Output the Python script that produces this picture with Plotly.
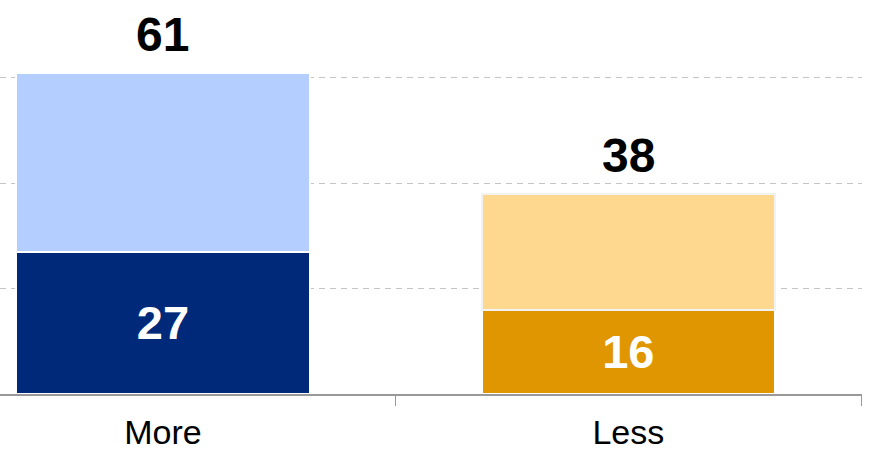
import plotly.graph_objects as go

categories = ["More", "Less"]
base_values = [27, 16]
top_values = [34, 22]
totals = [61, 38]

base_colors = ["#00297A", "#E09600"]
top_colors = ["#B3CEFF", "#FDD88E"]
top_line_colors = ["#FFFFFF", "#F2F2F2"]

fig = go.Figure()
fig.add_trace(go.Bar(
    x=categories, y=base_values, width=0.63,
    marker=dict(color=base_colors, line=dict(color="#FFFFFF", width=2)),
    text=[str(v) for v in base_values], textposition="inside",
    insidetextanchor="middle", textangle=0,
    textfont=dict(family="Liberation Sans, Arial", size=47, color="white", weight="bold"),
    hoverinfo="skip",
))
fig.add_trace(go.Bar(
    x=categories, y=top_values, width=0.63,
    marker=dict(color=top_colors, line=dict(color=top_line_colors, width=2)),
    hoverinfo="skip",
))
for c, t in zip(categories, totals):
    fig.add_annotation(x=c, y=t, text=str(t), showarrow=False, yanchor="bottom", yshift=10,
                       font=dict(family="Liberation Sans, Arial", size=48, color="black", weight="bold"))

fig.update_layout(
    barmode="stack", showlegend=False,
    width=869, height=452,
    margin=dict(l=0, r=7, t=0, b=58, autoexpand=False),
    plot_bgcolor="white", paper_bgcolor="white",
    font=dict(family="Liberation Sans, Arial", color="black"),
)
fig.update_xaxes(
    range=[-0.35, 1.502], tickson="boundaries", ticks="outside", ticklen=10,
    tickcolor="#999999", showline=True, linecolor="#999999", linewidth=1.5,
    tickfont=dict(size=34, color="black"), showgrid=False, ticklabelstandoff=7,
)
fig.update_yaxes(
    range=[0, 74.8], showticklabels=False, showgrid=True, gridcolor="#C4C4C4",
    griddash="6px,5px", gridwidth=1.2, tickvals=[20, 40, 60], zeroline=False, showline=False,
)
fig.write_html("out.html", config={"displayModeBar": False},
               post_script="document.body.style.margin='0';")
